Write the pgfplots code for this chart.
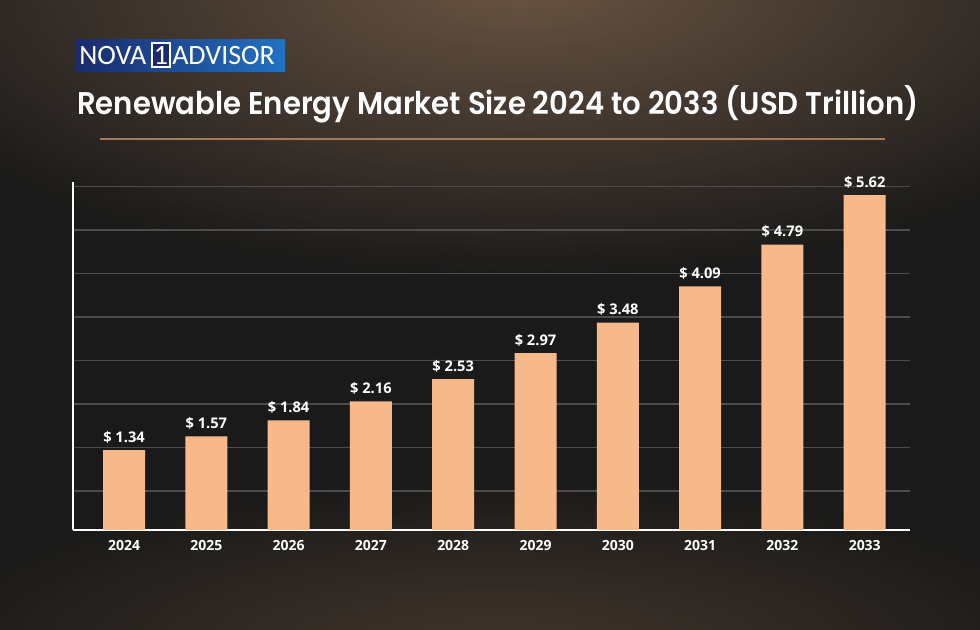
\documentclass[border=0pt]{standalone}
\usepackage{pgfplots}
\pgfplotsset{compat=1.18}
\usetikzlibrary{fadings,backgrounds}
\usepackage{fontspec}
\setmainfont{Open Sans}
\newfontfamily\titlefont{Poppins SemiBold}[FakeStretch=0.93]
\newfontfamily\logofont{Carlito}
\definecolor{bg}{HTML}{1A1A1A}
\definecolor{glowtop}{HTML}{6A5544}
\definecolor{glowbot}{HTML}{42362C}
\definecolor{barc}{HTML}{F8B98A}
\definecolor{gridc}{HTML}{4C4C4C}
\definecolor{rulec}{HTML}{A87A55}
\definecolor{navy}{HTML}{1B2A6B}
\definecolor{logoblue}{HTML}{2272C3}
\tikzfading[name=glowfade, inner color=transparent!0, outer color=transparent!100]
\begin{document}
\begin{tikzpicture}
% chart
\begin{axis}[
  scale only axis, width=627.75pt, height=261pt,
  ymin=0, ymax=5.84,
  xmin=-0.62, xmax=9.55,
  axis x line*=bottom, axis y line*=left,
  axis line style={white, line width=1.5pt, -},
  xtick=data,
  xticklabels={2024,2025,2026,2027,2028,2029,2030,2031,2032,2033},
  x tick label style={text=white, font=\bfseries\fontsize{10.5}{12}\selectfont, yshift=-4pt},
  ytick={0.654,1.384,2.114,2.844,3.574,4.304,5.034,5.764},
  yticklabels={},
  major tick length=0pt,
  ymajorgrids,
  grid style={gridc, line width=1.3pt},
  ybar, bar width=31.5pt,
  /pgf/number format/assume math mode=true,
  nodes near coords={\$ \pgfmathprintnumber[fixed,fixed zerofill,precision=2]{\pgfplotspointmeta}},
  every node near coord/.append style={text=white, font=\bfseries\fontsize{11}{12}\selectfont, anchor=south, inner sep=0pt, yshift=5pt},
  clip=false,
]
\addplot[fill=barc, draw=none] coordinates {
  (0,1.34) (1,1.57) (2,1.84) (3,2.16) (4,2.53)
  (5,2.97) (6,3.48) (7,4.09) (8,4.79) (9,5.62)
};
\coordinate (C) at (rel axis cs:0,0);
\end{axis}
% page decorations, in px with y measured from bottom (y' = 630 - y); axis corner at (73,100)
\begin{scope}[x=0.75pt, y=0.75pt, shift={(C)}, shift={(-73,-100)}]
\path[use as bounding box] (0,0) rectangle (980,630);
\begin{scope}[on background layer]
\fill[bg] (0,0) rectangle (980,630);
\clip (0,0) rectangle (980,630);
\fill[glowtop, path fading=glowfade] (520,650) ellipse (700 and 300);
\fill[glowbot, path fading=glowfade] (500,-20) ellipse (600 and 170);
\end{scope}
% logo
\shade[left color=navy, right color=logoblue] (75,590) rectangle (285,558);
\fill[navy] (152,587) rectangle (170,563);
\draw[white, line width=1pt] (152,587) rectangle (170,563);
\node[anchor=base west, inner sep=0, text=white, font=\logofont\fontsize{21}{21}\selectfont] at (79,565) {NOVA};
\node[anchor=base, inner sep=0, text=white, font=\logofont\fontsize{21}{21}\selectfont] at (161,565) {1};
\node[anchor=base west, inner sep=0, text=white, font=\logofont\fontsize{21}{21}\selectfont] at (172,565) {ADVISOR};
% title
\node[anchor=base west, inner sep=0, text=white, font=\titlefont\fontsize{23.5}{25}\selectfont] at (77,515) {Renewable Energy Market Size 2024 to 2033 (USD Trillion)};
\draw[rulec, line width=0.8pt] (100,491) -- (885,491);
\end{scope}
\end{tikzpicture}
\end{document}
